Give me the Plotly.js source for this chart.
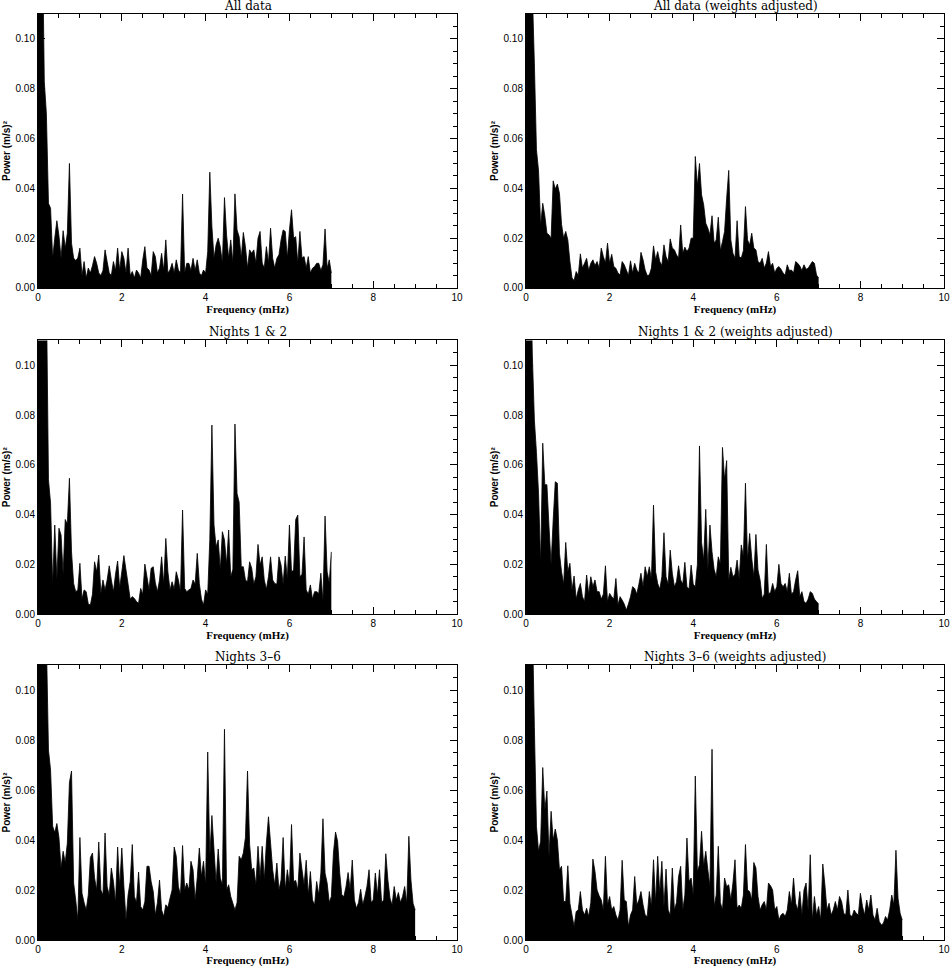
<!DOCTYPE html>
<html>
<head>
<meta charset="utf-8">
<script src="https://cdn.plot.ly/plotly-3.0.1.min.js"></script>
<style>html,body{margin:0;padding:0;background:#fff;}</style>
</head>
<body>
<div id="chart" style="width:950px;height:967px;"></div>
<script>
// power spectra, one value per 0.05 mHz bin (peak height read in each bin)
var BIN = 0.05;

var allData = [0.15,0.15,0.15,0.083,0.070,0.034,0.032,0.012,0.020,0.027,
  0.021,0.012,0.023,0.016,0.022,0.050,0.018,0.012,0.011,0.012,
  0.016,0.005,0.0106,0.004,0.008,0.006,0.009,0.0126,0.0099,0.006,
  0.005,0.007,0.0153,0.0106,0.006,0.005,0.0106,0.007,0.016,0.007,
  0.0146,0.0119,0.006,0.016,0.005,0.0066,0.004,0.0072,0.006,0.004,
  0.0113,0.0166,0.008,0.0072,0.005,0.0146,0.0126,0.006,0.008,0.0139,
  0.007,0.0193,0.006,0.0072,0.0099,0.006,0.0113,0.0072,0.006,0.0377,
  0.006,0.0099,0.0099,0.007,0.0119,0.007,0.0113,0.006,0.005,0.0072,
  0.006,0.0146,0.0465,0.0247,0.012,0.0173,0.020,0.0166,0.010,0.0363,
  0.0213,0.012,0.0193,0.010,0.0378,0.0233,0.0206,0.012,0.0223,0.0166,
  0.008,0.0153,0.0139,0.0153,0.010,0.020,0.0227,0.010,0.008,0.0166,
  0.010,0.024,0.0119,0.008,0.0119,0.0133,0.0193,0.0233,0.0227,0.012,
  0.0233,0.0314,0.020,0.0206,0.010,0.0227,0.012,0.0126,0.008,0.0126,
  0.006,0.0079,0.0086,0.0099,0.0099,0.007,0.0093,0.0237,0.0079,0.0113,
  0.006];

var allWeighted = [0.15,0.15,0.15,0.12,0.09,0.0555,0.047,0.025,0.034,0.029,
  0.022,0.0213,0.020,0.043,0.0397,0.0417,0.038,0.0256,0.020,0.0227,
  0.0193,0.0106,0.004,0.003,0.0066,0.005,0.0137,0.008,0.0099,0.0119,
  0.007,0.0099,0.0113,0.009,0.0106,0.008,0.016,0.0126,0.010,0.018,
  0.0099,0.0135,0.0086,0.0079,0.006,0.0052,0.0106,0.0093,0.0072,0.005,
  0.0109,0.006,0.0099,0.0072,0.006,0.0143,0.0113,0.0072,0.005,0.0052,
  0.008,0.0169,0.0113,0.0146,0.0106,0.009,0.0173,0.0126,0.0106,0.0197,
  0.016,0.0153,0.0133,0.012,0.0253,0.0139,0.0164,0.0146,0.016,0.020,
  0.020,0.0528,0.041,0.050,0.0374,0.0334,0.026,0.024,0.0213,0.029,
  0.018,0.0193,0.0284,0.015,0.0186,0.0227,0.036,0.0472,0.0193,0.0139,
  0.012,0.027,0.0126,0.012,0.015,0.0327,0.0193,0.0173,0.022,0.016,
  0.0153,0.0106,0.0099,0.0119,0.008,0.010,0.0146,0.0086,0.0099,0.006,
  0.0079,0.0086,0.0075,0.006,0.0052,0.0093,0.007,0.0072,0.006,0.0106,
  0.0099,0.0088,0.007,0.0093,0.0075,0.0079,0.0093,0.0106,0.0099,0.0052,
  0.004];

var nights12 = [0.15,0.15,0.15,0.15,0.13,0.054,0.0446,0.0117,0.0358,0.014,
  0.0345,0.0318,0.016,0.038,0.0362,0.0546,0.025,0.0123,0.009,0.0097,
  0.0204,0.006,0.0097,0.009,0.004,0.0036,0.008,0.021,0.017,0.0237,
  0.0083,0.0137,0.0097,0.0137,0.0194,0.0137,0.009,0.016,0.0213,0.0105,
  0.017,0.0235,0.0177,0.012,0.006,0.007,0.0063,0.005,0.0043,0.0103,
  0.008,0.0201,0.015,0.0097,0.0184,0.019,0.0126,0.009,0.0137,0.023,
  0.012,0.0304,0.017,0.0097,0.013,0.010,0.017,0.0137,0.009,0.0418,
  0.0103,0.009,0.0097,0.0103,0.0137,0.012,0.0244,0.0123,0.006,0.0036,
  0.0097,0.008,0.030,0.076,0.0358,0.027,0.0298,0.0177,0.0331,0.0298,
  0.020,0.0338,0.015,0.018,0.0764,0.0485,0.045,0.019,0.019,0.0137,
  0.013,0.021,0.0184,0.012,0.015,0.028,0.0197,0.023,0.0137,0.010,
  0.015,0.023,0.0137,0.0123,0.012,0.023,0.0197,0.012,0.0233,0.014,
  0.0358,0.017,0.0177,0.038,0.0398,0.015,0.016,0.031,0.0097,0.008,
  0.0117,0.006,0.009,0.009,0.0083,0.0164,0.005,0.0394,0.017,0.0125,
  0.025];

var nights12w = [0.15,0.15,0.15,0.105,0.078,0.065,0.0485,0.020,0.0687,0.052,
  0.052,0.0351,0.020,0.0378,0.0532,0.0526,0.0244,0.017,0.012,0.0288,
  0.017,0.0204,0.0097,0.0153,0.006,0.0097,0.0123,0.007,0.005,0.0157,
  0.008,0.015,0.011,0.0137,0.009,0.009,0.006,0.008,0.0194,0.005,
  0.0083,0.007,0.006,0.0143,0.0036,0.007,0.0056,0.004,0.0016,0.004,
  0.007,0.011,0.0103,0.008,0.012,0.0164,0.011,0.019,0.015,0.019,
  0.014,0.0438,0.017,0.0123,0.010,0.015,0.0327,0.015,0.012,0.0257,
  0.0164,0.011,0.013,0.0194,0.0137,0.012,0.0208,0.011,0.010,0.0197,
  0.012,0.011,0.020,0.0676,0.0288,0.0217,0.0421,0.0177,0.0358,0.025,
  0.018,0.015,0.023,0.020,0.067,0.054,0.0617,0.0137,0.0188,0.015,
  0.016,0.0217,0.014,0.0278,0.023,0.0526,0.0217,0.0324,0.0224,0.015,
  0.032,0.0177,0.0137,0.0063,0.008,0.028,0.0083,0.0086,0.0123,0.009,
  0.011,0.020,0.0123,0.011,0.0123,0.009,0.0164,0.008,0.009,0.0137,
  0.0174,0.007,0.009,0.005,0.0043,0.006,0.009,0.0083,0.006,0.005,
  0.004];

var nights36 = [0.15,0.15,0.15,0.15,0.12,0.076,0.068,0.0455,0.043,0.0466,
  0.041,0.0288,0.0355,0.031,0.0388,0.063,0.0676,0.0228,0.016,0.008,
  0.041,0.0187,0.015,0.012,0.018,0.033,0.0348,0.0248,0.020,0.0392,
  0.020,0.018,0.0428,0.0214,0.018,0.0288,0.0234,0.015,0.0372,0.0214,
  0.0368,0.0214,0.008,0.018,0.0234,0.0382,0.0174,0.015,0.0272,0.0134,
  0.012,0.0154,0.0295,0.0295,0.0234,0.0194,0.010,0.015,0.024,0.012,
  0.0094,0.0141,0.013,0.0167,0.020,0.0372,0.0335,0.0214,0.018,0.0378,
  0.020,0.0228,0.020,0.0315,0.0281,0.016,0.025,0.0368,0.0254,0.0315,
  0.022,0.0752,0.0335,0.0498,0.0361,0.0228,0.0364,0.0248,0.022,0.0843,
  0.020,0.0221,0.0174,0.0147,0.012,0.015,0.0335,0.0321,0.0348,0.041,
  0.0676,0.0382,0.0281,0.0288,0.022,0.0375,0.025,0.0375,0.024,0.0388,
  0.0493,0.0388,0.0281,0.022,0.0308,0.020,0.024,0.041,0.020,0.0281,
  0.022,0.0462,0.0234,0.0238,0.020,0.0348,0.0281,0.022,0.0319,0.018,
  0.0274,0.016,0.014,0.0234,0.018,0.0268,0.0485,0.0268,0.0228,0.015,
  0.0174,0.0348,0.0432,0.0395,0.0268,0.018,0.0174,0.0214,0.027,0.020,
  0.032,0.016,0.0127,0.015,0.0203,0.014,0.0174,0.0214,0.0281,0.015,
  0.016,0.0268,0.018,0.0281,0.015,0.016,0.0345,0.024,0.0167,0.014,
  0.0214,0.016,0.019,0.015,0.0174,0.0214,0.0147,0.0415,0.024,0.0147,
  0.012];

var nights36w = [0.15,0.15,0.15,0.13,0.085,0.0455,0.0355,0.0395,0.069,0.052,
  0.0596,0.0335,0.0515,0.040,0.0444,0.040,0.0281,0.0295,0.0154,0.0154,
  0.0297,0.0147,0.010,0.0054,0.0114,0.012,0.0194,0.012,0.010,0.0127,
  0.0094,0.015,0.0324,0.0274,0.020,0.0177,0.016,0.012,0.0335,0.0141,
  0.0174,0.012,0.0134,0.010,0.008,0.012,0.0319,0.016,0.0154,0.0054,
  0.010,0.012,0.0254,0.014,0.016,0.0194,0.0141,0.010,0.0094,0.0194,
  0.0134,0.0321,0.015,0.0335,0.0187,0.0315,0.0134,0.0284,0.012,0.010,
  0.0288,0.012,0.015,0.0254,0.0295,0.012,0.018,0.0408,0.0234,0.0248,
  0.018,0.0656,0.0274,0.0301,0.0435,0.0295,0.0355,0.0281,0.0214,0.0763,
  0.0134,0.018,0.0375,0.015,0.012,0.0248,0.0214,0.0221,0.016,0.0228,
  0.0321,0.0127,0.014,0.0127,0.018,0.0382,0.020,0.0194,0.016,0.031,
  0.0288,0.0174,0.012,0.0141,0.0154,0.012,0.0228,0.0217,0.020,0.012,
  0.0134,0.008,0.010,0.0107,0.0094,0.012,0.0194,0.0141,0.0248,0.0147,
  0.012,0.0194,0.010,0.020,0.0228,0.012,0.0341,0.008,0.0174,0.010,
  0.0134,0.008,0.0304,0.0221,0.012,0.0147,0.010,0.012,0.0154,0.012,
  0.0174,0.0154,0.0107,0.010,0.020,0.010,0.0094,0.012,0.0107,0.010,
  0.0187,0.0134,0.010,0.016,0.012,0.018,0.010,0.008,0.0127,0.0074,
  0.006,0.0067,0.0094,0.008,0.012,0.018,0.0141,0.0359,0.0167,0.0107,
  0.008];

var titles = ['All data', 'All data (weights adjusted)',
  'Nights 1 &amp; 2', 'Nights 1 &amp; 2 (weights adjusted)',
  'Nights 3\u20136', 'Nights 3\u20136 (weights adjusted)'];
var series = [allData, allWeighted, nights12, nights12w, nights36, nights36w];

// panel boxes in paper coords
var colDom = [[0.0400, 0.4811], [0.5537, 0.9937]];
var rowDom = [[0.7022, 0.9855], [0.3650, 0.6479], [0.0279, 0.3123]];

function freqs(n) {
  var f = [];
  for (var i = 0; i < n; i++) f.push(+(i * BIN).toFixed(2));
  return f;
}

var black = '#000';
var data = [];
var layout = {
  width: 950, height: 967,
  margin: {l: 0, r: 0, t: 0, b: 0},
  paper_bgcolor: '#fff', plot_bgcolor: '#fff',
  showlegend: false,
  annotations: []
};

for (var p = 0; p < 6; p++) {
  var col = p % 2, row = Math.floor(p / 2);
  var n = p === 0 ? '' : String(p + 1);
  data.push({
    type: 'scatter', mode: 'lines',
    x: freqs(series[p].length),
    y: series[p],
    line: {color: black, width: 0.8, simplify: false},
    fill: 'tozeroy', fillcolor: black,
    xaxis: 'x' + n, yaxis: 'y' + n,
    hoverinfo: 'x+y'
  });
  layout['xaxis' + n] = {
    domain: colDom[col], anchor: 'y' + n, range: [0, 10],
    tick0: 0, dtick: 2, ticks: 'inside', ticklen: 7, tickwidth: 1, tickcolor: black,
    minor: {dtick: 0.5, ticks: 'inside', ticklen: 4, tickwidth: 1, tickcolor: black},
    showline: true, mirror: 'allticks', linecolor: black, linewidth: 1,
    showgrid: false, zeroline: false, ticklabeloverflow: 'allow',
    tickfont: {family: 'Liberation Sans', size: 10, color: black},
    title: {text: 'Frequency (mHz)', standoff: 2,
      font: {family: 'Liberation Serif', size: 11, color: black, weight: 'bold'}}
  };
  layout['yaxis' + n] = {
    domain: rowDom[row], anchor: 'x' + n, range: [0, 0.11],
    tick0: 0, dtick: 0.02, tickformat: '.2f',
    ticks: 'inside', ticklen: 7, tickwidth: 1, tickcolor: black,
    minor: {dtick: 0.005, ticks: 'inside', ticklen: 4, tickwidth: 1, tickcolor: black},
    showline: true, mirror: 'allticks', linecolor: black, linewidth: 1,
    showgrid: false, zeroline: false,
    tickfont: {family: 'Liberation Sans', size: 10, color: black},
    title: {text: 'Power (m/s)\u00b2', standoff: 3,
      font: {family: 'Liberation Sans', size: 10, color: black, weight: 'bold'}}
  };
  layout.annotations.push({
    text: titles[p], showarrow: false,
    xref: 'paper', yref: 'paper',
    x: (colDom[col][0] + colDom[col][1]) / 2, y: rowDom[row][1],
    xanchor: 'center', yanchor: 'middle', yshift: 8,
    font: {family: 'DejaVu Serif', size: 12, color: black}
  });
}

Plotly.newPlot('chart', data, layout, {displayModeBar: false, staticPlot: true});
</script>
</body>
</html>
